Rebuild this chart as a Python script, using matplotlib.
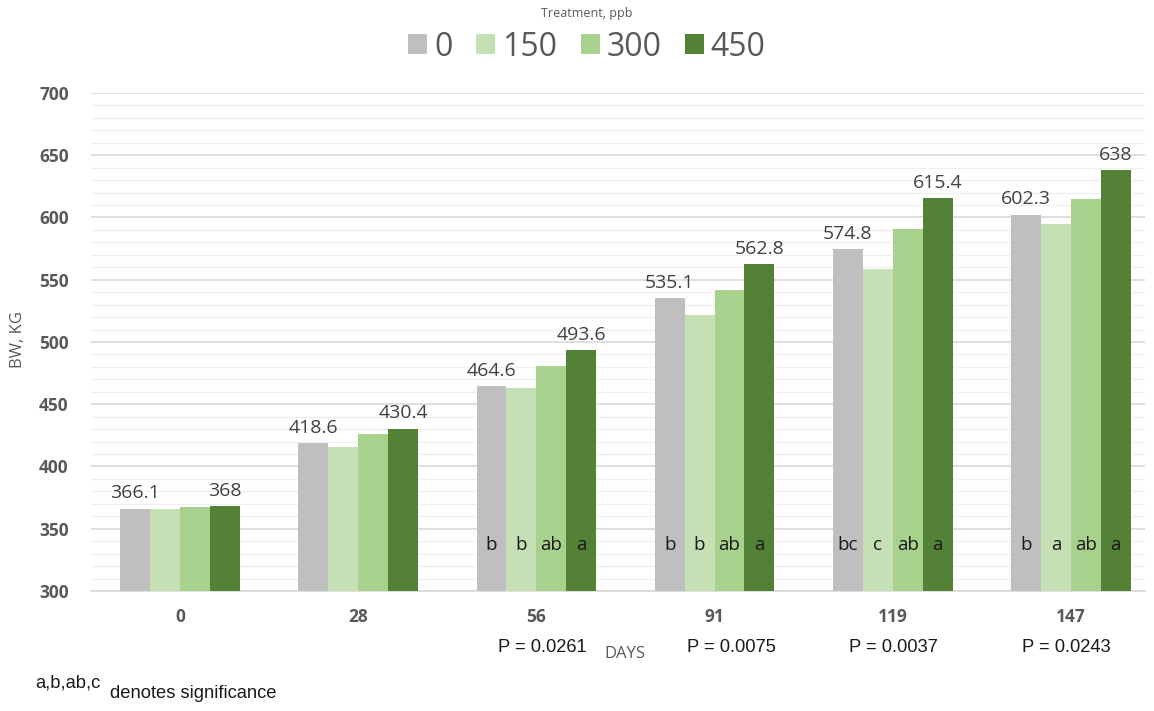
import numpy as np
import matplotlib
matplotlib.use('Agg')
from matplotlib import pyplot as plt
from matplotlib.ticker import MultipleLocator
from matplotlib.patches import Patch

# body weight by day and treatment
days = ['0', '28', '56', '91', '119', '147']
treatments = ['0', '150', '300', '450']
bw_0 = [366.1, 418.6, 464.6, 535.1, 574.8, 602.3]
bw_150 = [366.0, 415.8, 463.2, 521.8, 559.0, 594.8]
bw_300 = [367.6, 426.0, 480.6, 541.8, 590.6, 614.8]
bw_450 = [368.0, 430.4, 493.6, 562.8, 615.4, 638.0]

# significance letters (empty where no difference)
sig_0 = ['', '', 'b', 'b', 'bc', 'b']
sig_150 = ['', '', 'b', 'b', 'c', 'a']
sig_300 = ['', '', 'ab', 'ab', 'ab', 'ab']
sig_450 = ['', '', 'a', 'a', 'a', 'a']
pvals = ['', '', 'P = 0.0261', 'P = 0.0075', 'P = 0.0037', 'P = 0.0243']

colors = ['#BFBFBF', '#C5E0B4', '#A9D18E', '#538135']
series = [bw_0, bw_150, bw_300, bw_450]
letters = [sig_0, sig_150, sig_300, sig_450]

W, H = 1154, 711
fig = plt.figure(figsize=(W/100., H/100.), dpi=100)
ax = fig.add_axes([91./W, (H-591.)/H, (1145.-91.)/W, 498./H])

x = np.arange(len(days))
bw = 0.168
for k in range(4):
    pos = x + (k-1.5)*bw
    ax.bar(pos, series[k], bw, bottom=0, color=colors[k], zorder=3)
    for i in range(len(days)):
        if letters[k][i]:
            ax.text(pos[i], 337, letters[k][i], ha='center', va='center',
                    fontsize=13.5, color='#1a1a1a', family='Open Sans', zorder=4)
    # values only printed for control and top dose
    if k in (0, 3):
        for i in range(len(days)):
            v = series[k][i]
            ax.text(pos[i], v+5, ('%g' % v), ha='center', va='bottom',
                    fontsize=14, color='#404040', family='Open Sans', zorder=4)

ax.set_ylim(300, 700)
ax.set_xlim(-0.5, 5.416)
ax.yaxis.set_major_locator(MultipleLocator(50))
ax.yaxis.set_minor_locator(MultipleLocator(10))
ax.grid(which='major', axis='y', color='#D9D9D9', lw=1.2, zorder=0)
ax.grid(which='minor', axis='y', color='#F0F0F0', lw=1.0, zorder=0)
ax.set_axisbelow(True)
for s in ['top', 'right', 'left']:
    ax.spines[s].set_visible(False)
ax.spines['bottom'].set_color('#D9D9D9')
ax.spines['bottom'].set_linewidth(1.2)
ax.tick_params(axis='both', which='both', length=0)
ax.tick_params(axis='y', pad=16)
ax.tick_params(axis='x', pad=12)
ax.set_xticks(x)
ax.set_xticklabels(days)
for lab in ax.get_xticklabels() + ax.get_yticklabels():
    lab.set_fontfamily('Open Sans')
    lab.set_fontweight('bold')
    lab.set_fontsize(12.5)
    lab.set_color('#595959')

fig.text(18./W, 1-340./H, 'BW, KG', rotation=90, ha='center', va='center',
         fontsize=12, color='#595959', family='Open Sans')
fig.text(625./W, 1-654./H, 'DAYS', ha='center', va='center',
         fontsize=12, color='#595959', family='Open Sans')

# p-values under each day label
p_x = [179, 357, 542, 731, 893, 1066]
for i in range(len(days)):
    if pvals[i]:
        fig.text(p_x[i]/W, 1-647./H, pvals[i], ha='center', va='center',
                 fontsize=13.2, color='#1a1a1a', family='Liberation Sans')

fig.text(35./W, 1-683./H, 'a,b,ab,c', ha='left', va='center',
         fontsize=13.2, color='#1a1a1a', family='Liberation Sans')
fig.text(110./W, 1-694./H, 'denotes significance', ha='left', va='center',
         fontsize=13.2, color='#1a1a1a', family='Liberation Sans')

# legend with its title drawn separately
fig.text(587./W, 1-13./H, 'Treatment, ppb', ha='center', va='center',
         fontsize=9, color='#595959', family='Open Sans')
handles = [Patch(facecolor=c) for c in colors]
leg = fig.legend(handles, treatments, loc='center', bbox_to_anchor=(587./W, 1-47./H),
                 ncol=4, frameon=False,
                 prop={'family': 'Open Sans', 'size': 23},
                 handlelength=0.6, handleheight=0.6, handletextpad=0.2,
                 columnspacing=0.75, borderaxespad=0, borderpad=0, labelspacing=0)
for t in leg.get_texts():
    t.set_color('#595959')

fig.savefig('out.png', dpi=100)
